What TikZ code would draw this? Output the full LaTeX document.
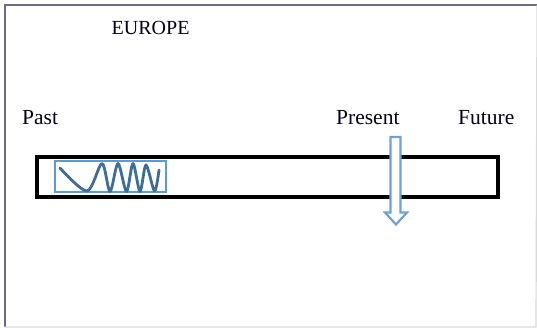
\documentclass[tikz,border=0pt]{standalone}
\usepackage{fontspec}
\setmainfont{Liberation Serif}
\begin{document}
\begin{tikzpicture}[x=1pt,y=-1pt,
  lbl/.style={anchor=base west,inner sep=0pt,text=black!90!blue,font=\fontsize{21.5}{24}\selectfont},
  ttl/.style={anchor=base west,inner sep=0pt,text=black!90!blue,font=\fontsize{20}{24}\selectfont},
  barbox/.style={draw=black,line width=3.2pt,inner sep=0pt},
  bluebox/.style={draw=boxblue,line width=2.2pt,inner sep=0pt},
  wave/.style={draw=waveblue,line width=2.8pt,line cap=round,line join=round},
  arrowshape/.style={draw=arrowblue,fill=white,line width=2.2pt,line join=miter}]
\definecolor{boxblue}{HTML}{5B9BD5}
\definecolor{waveblue}{HTML}{3E6D9C}
\definecolor{arrowblue}{HTML}{6FA0D8}
\definecolor{framecol}{HTML}{6E6A82}
\useasboundingbox (0,0) rectangle (537,328);
\fill[white] (0,0) rectangle (537,328);
% frame
\coordinate (f1) at (4.5,327);
\coordinate (f2) at (4.5,5.5);
\coordinate (f3) at (537,5.5);
\coordinate (f4) at (536,327);
\draw[framecol,line width=2pt] (f1) -- (f2) -- (f3);
\draw[black!15,line width=1.2pt] (f3) -- (f4) -- (f1);
% texts
\node[ttl] (europe) at (111.5,35) {EUROPE};
\node[lbl] (past) at (22,125) {Past};
\node[lbl] (present) at (336,125) {Present};
\node[lbl] (future) at (458,125) {Future};
% timeline bar
\node[barbox,minimum width=461pt,minimum height=40pt] (bar) at (267.5,177) {};
% blue box with wave
\node[bluebox,minimum width=111pt,minimum height=31pt] (box) at (110.5,176.8) {};
\draw[wave] plot[smooth,tension=0.5] coordinates {(60,168) (87,191) (102,163.5) (110,191.5) (118,163.5) (126.5,191.5) (133,163.5) (140,191.5) (146,165) (154.5,191) (159,170)};
% present arrow
\draw[arrowshape] (390.5,137) -- (400.5,137) -- (400.5,212.5) -- (407,212.5) -- (396,224.5) -- (385,212.5) -- (390.5,212.5) -- cycle;
\end{tikzpicture}
\end{document}
